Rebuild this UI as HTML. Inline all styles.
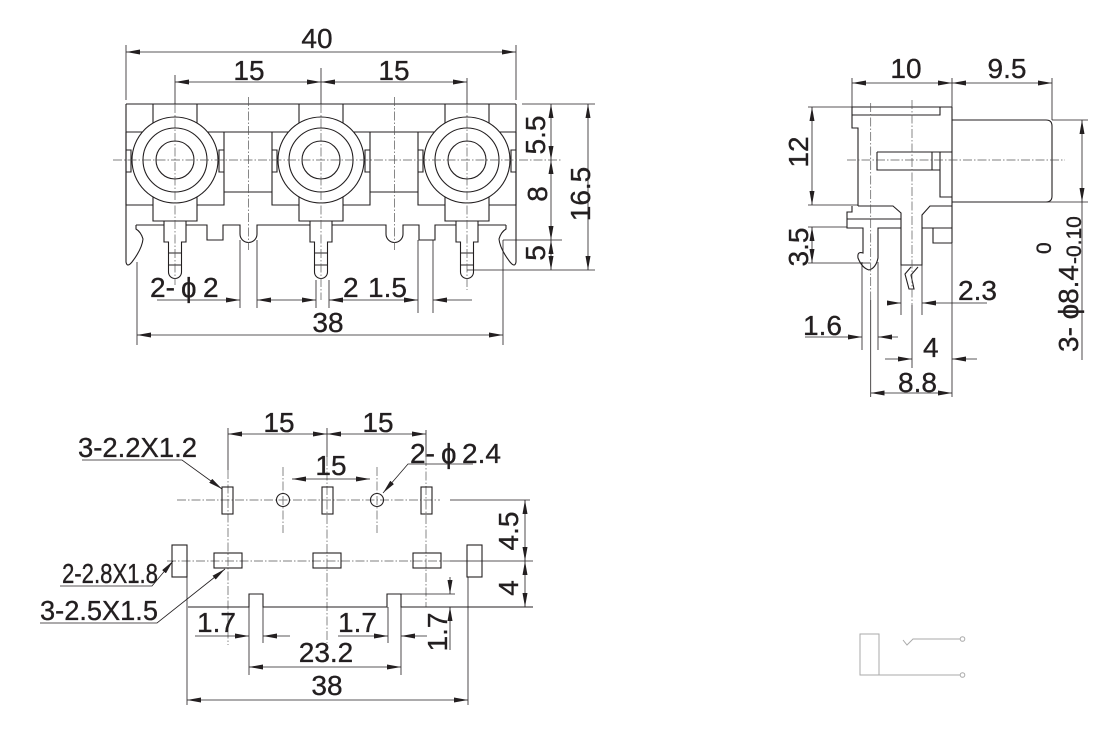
<!DOCTYPE html>
<html><head><meta charset="utf-8"><style>
html,body{margin:0;padding:0;background:#fff;}
svg{display:block;}
.o{stroke:#231f20;stroke-width:1.1;fill:none;}
.d{stroke:#231f20;stroke-width:0.8;fill:none;}
.c{stroke:#555;stroke-width:0.7;fill:none;stroke-dasharray:9 2 1.5 2;}
.g{stroke:#aaa;stroke-width:1;fill:none;}
text{font-family:"Liberation Sans","DejaVu Sans",Arial,sans-serif;font-size:28px;fill:#231f20;stroke:#231f20;stroke-width:0.35;}
.s{font-size:21px;}
</style></head><body>
<svg width="1120" height="734" viewBox="0 0 1120 734" xmlns="http://www.w3.org/2000/svg">
<defs>
<marker id="a" viewBox="0 0 14 5" refX="14" refY="2.5" markerWidth="14" markerHeight="5" markerUnits="userSpaceOnUse" orient="auto-start-reverse"><path d="M0,0 L14,2.5 L0,5 z" fill="#231f20"/></marker>
</defs>
<rect width="1120" height="734" fill="#fff"/>

<!-- ================= FRONT VIEW ================= -->
<g class="o">
<path d="M126,104 H516 M126,132 H516"/>
<path d="M126,104 V262 Q127,268 132,262 Q142,249 143,239 Q141,232 136,229 V225"/>
<path d="M516,104 V262 Q515,268 510,262 Q500,249 499,239 Q501,232 506,229 V225"/>
<path d="M126,132 V205 H153 M224,132 V205 H197 M153,104 V125 M197,104 V125 M153,190 V221 H197 V190 M126,150 H131 V172 H126 M224,150 H219 V172 H224"/>
<path d="M272,132 V205 H299 M370,132 V205 H343 M299,104 V125 M343,104 V125 M299,190 V221 H343 V190 M272,150 H277 V172 H272 M370,150 H365 V172 H370"/>
<path d="M418,132 V205 H445 M516,132 V205 H489 M445,104 V125 M489,104 V125 M445,190 V221 H489 V190 M418,150 H423 V172 H418 M516,150 H511 V172 H516"/>
<path d="M224,192 H272 M370,192 H418"/>
<path d="M136,225 H164 M186,225 H207 V240 H223 V225 H240 V234 A8.5,8.5 0 0 0 257,234 V225 H310 M332,225 H386 V234 A8.5,8.5 0 0 0 403,234 V225 H419 V240 H435 V225 H456 M478,225 H506"/>
<path d="M164,221 V242 H168.5 V272 A6.5,6.5 0 0 0 181.5,272 V242 H186 V221 M168.5,253 H181.5 M168.5,265 H181.5"/>
<path d="M310,221 V242 H314.5 V272 A6.5,6.5 0 0 0 327.5,272 V242 H332 V221 M314.5,253 H327.5 M314.5,265 H327.5"/>
<path d="M456,221 V242 H460.5 V272 A6.5,6.5 0 0 0 473.5,272 V242 H478 V221 M460.5,253 H473.5 M460.5,265 H473.5"/>
<circle cx="175" cy="160" r="43" fill="#fff"/><circle cx="175" cy="160" r="32"/><circle cx="175" cy="160" r="19"/>
<circle cx="321" cy="160" r="43" fill="#fff"/><circle cx="321" cy="160" r="32"/><circle cx="321" cy="160" r="19"/>
<circle cx="467" cy="160" r="43" fill="#fff"/><circle cx="467" cy="160" r="32"/><circle cx="467" cy="160" r="19"/>
</g>
<g class="c">
<path d="M113,160 H562"/>
<path d="M175,104 V285 M321,104 V300 M467,104 V290 M248.5,97 V250 M394.5,97 V250"/>
</g>
<g class="d">
<path d="M126,45 V100 M516,45 V100 M175,75 V104 M321,68 V104 M467,78 V104"/>
<line x1="126" y1="52" x2="516" y2="52" marker-start="url(#a)" marker-end="url(#a)"/>
<line x1="175" y1="82" x2="321" y2="82" marker-start="url(#a)" marker-end="url(#a)"/>
<line x1="321" y1="82" x2="467" y2="82" marker-start="url(#a)" marker-end="url(#a)"/>
<path d="M522,104 H595 M503,240 H562 M467,270 H595"/>
<line x1="551" y1="104" x2="551" y2="160" marker-start="url(#a)" marker-end="url(#a)"/>
<line x1="551" y1="160" x2="551" y2="240" marker-start="url(#a)" marker-end="url(#a)"/>
<line x1="551" y1="240" x2="551" y2="270" marker-start="url(#a)" marker-end="url(#a)"/>
<line x1="588" y1="104" x2="588" y2="270" marker-start="url(#a)" marker-end="url(#a)"/>
<path d="M240,240 V308 M257,240 V308 M316,280 V308 M329,280 V308 M418,240 V313 M433,240 V313 M137,262 V345 M503,240 V345"/>
<line x1="157" y1="300" x2="240" y2="300" marker-end="url(#a)"/>
<line x1="257" y1="300" x2="316" y2="300" marker-start="url(#a)" marker-end="url(#a)"/>
<line x1="329" y1="300" x2="418" y2="300" marker-start="url(#a)" marker-end="url(#a)"/>
<line x1="472" y1="300" x2="433" y2="300" marker-end="url(#a)"/>
<line x1="137" y1="335" x2="503" y2="335" marker-start="url(#a)" marker-end="url(#a)"/>
</g>
<text x="317" y="48" text-anchor="middle">40</text>
<text x="249" y="80" text-anchor="middle">15</text>
<text x="394" y="80" text-anchor="middle">15</text>
<text transform="translate(545,135) rotate(-90)" text-anchor="middle">5.5</text>
<text transform="translate(547,194) rotate(-90)" text-anchor="middle">8</text>
<text transform="translate(545,253) rotate(-90)" text-anchor="middle">5</text>
<text transform="translate(590,194) rotate(-90)" text-anchor="middle">16.5</text>
<text x="150" y="297">2-</text><text x="181" y="297">ɸ</text><text x="203" y="297">2</text>
<text x="343" y="297">2</text>
<text x="368" y="297">1.5</text>
<text x="328" y="332" text-anchor="middle">38</text>

<!-- ================= SIDE VIEW ================= -->
<g class="o">
<path d="M952,107 H852 V128 H858 V206"/>
<path d="M858,206 H893 L901,213 V265 H922 V215 L930,206 H952"/>
<path d="M852,206 V212 H847 V228 H863 V253 Q857,251 858,258 Q862,268 869,270 Q876,268 878,258 V228 H901"/>
<path d="M847,219 H901"/>
<path d="M922,228 H952 M933,228 V243 H952"/>
<path d="M952,107 V243"/>
<path d="M852,115 H940 V107"/>
<path d="M952,120 H1046 Q1052,120 1052,126 V196 Q1052,202 1046,202 H952"/>
<path d="M877,152 H952 M877,152 V170 H940 M932,152 V170 M940,152 V197 H952"/>
<path d="M911,267 L905,274 L909,289 H914 L911,275 L918,267"/>
</g>
<g class="c">
<path d="M847,160 H1065"/>
<path d="M870.7,103 V300 M912,100 V305"/>
</g>
<g class="d">
<path d="M852,78 V107 M952,78 V107 M1052,78 V120"/>
<line x1="852" y1="83" x2="952" y2="83" marker-start="url(#a)" marker-end="url(#a)"/>
<line x1="952" y1="83" x2="1052" y2="83" marker-start="url(#a)" marker-end="url(#a)"/>
<path d="M808,107 H852 M808,205 H858 M808,227 H847 M808,263 H870"/>
<line x1="812" y1="107" x2="812" y2="205" marker-start="url(#a)" marker-end="url(#a)"/>
<line x1="812" y1="227" x2="812" y2="263" marker-start="url(#a)" marker-end="url(#a)"/>
<path d="M952,243 V397 M870.7,300 V397 M912,305 V368 M862,262 V350 M878,262 V350 M901,265 V315 M922,265 V315"/>
<line x1="887" y1="303" x2="901" y2="303" marker-end="url(#a)"/>
<line x1="987" y1="303" x2="922" y2="303" marker-end="url(#a)"/>
<line x1="805" y1="337" x2="862" y2="337" marker-end="url(#a)"/>
<line x1="898" y1="337" x2="878" y2="337" marker-end="url(#a)"/>
<line x1="885" y1="359" x2="912" y2="359" marker-end="url(#a)"/>
<line x1="977" y1="359" x2="952" y2="359" marker-end="url(#a)"/>
<line x1="870.7" y1="393" x2="952" y2="393" marker-start="url(#a)" marker-end="url(#a)"/>
<path d="M1052,120 H1088 M1047,202 H1088 M1082,202 V360"/>
<line x1="1082" y1="120" x2="1082" y2="202" marker-start="url(#a)" marker-end="url(#a)"/>
</g>
<text x="906" y="78" text-anchor="middle">10</text>
<text x="1007" y="78" text-anchor="middle">9.5</text>
<text transform="translate(808,152) rotate(-90)" text-anchor="middle">12</text>
<text transform="translate(808,247) rotate(-90)" text-anchor="middle">3.5</text>
<text x="958" y="300">2.3</text>
<text x="803" y="335">1.6</text>
<text x="923" y="357">4</text>
<text x="898" y="392">8.8</text>
<text transform="translate(1078,352) rotate(-90)">3- ɸ8.4</text>
<text class="s" transform="translate(1081,264) rotate(-90)">-0.10</text>
<text class="s" transform="translate(1051,254) rotate(-90)">0</text>

<!-- ================= FOOTPRINT ================= -->
<g class="c">
<path d="M177,500 H440 M167,561 H450"/>
<path d="M228,470 V645 M327,457 V643 M426,457 V607 M283,467 V533 M377,467 V533"/>
</g>
<g class="o">
<rect x="222" y="487" width="11" height="27"/>
<rect x="322" y="487" width="11" height="27"/>
<rect x="421" y="487" width="11" height="27"/>
<circle cx="283" cy="500" r="6.5"/>
<circle cx="377" cy="500" r="6.5"/>
<rect x="214" y="553" width="28" height="15"/>
<rect x="313" y="553" width="28" height="15"/>
<rect x="413" y="553" width="28" height="15"/>
<rect x="172" y="545" width="15" height="32"/>
<rect x="467" y="545" width="15" height="32"/>
<path d="M188,607 H249 V594 H263 V607 H387 V594 H401 V607 H533"/>
</g>
<g class="d">
<path d="M228,428 V470 M327,428 V457 M426,430 V457"/>
<line x1="228" y1="434" x2="327" y2="434" marker-start="url(#a)" marker-end="url(#a)"/>
<line x1="327" y1="434" x2="426" y2="434" marker-start="url(#a)" marker-end="url(#a)"/>
<line x1="292" y1="479" x2="370" y2="479" marker-start="url(#a)" marker-end="url(#a)"/>
<path d="M450,500 H530 M450,561 H533"/>
<line x1="525" y1="500" x2="525" y2="561" marker-start="url(#a)" marker-end="url(#a)"/>
<line x1="525" y1="561" x2="525" y2="607" marker-start="url(#a)" marker-end="url(#a)"/>
<path d="M187,577 V705 M468,577 V705 M249,607 V675 M263,607 V643 M388,607 V643 M401,607 V675 M401,594 H455"/>
<line x1="450" y1="577" x2="450" y2="594" marker-end="url(#a)"/>
<line x1="450" y1="650" x2="450" y2="607" marker-end="url(#a)"/>
<line x1="195" y1="636" x2="249" y2="636" marker-end="url(#a)"/>
<line x1="290" y1="636" x2="263" y2="636" marker-end="url(#a)"/>
<line x1="338" y1="636" x2="388" y2="636" marker-end="url(#a)"/>
<line x1="427" y1="636" x2="401" y2="636" marker-end="url(#a)"/>
<line x1="249" y1="667" x2="401" y2="667" marker-start="url(#a)" marker-end="url(#a)"/>
<line x1="187" y1="700" x2="468" y2="700" marker-start="url(#a)" marker-end="url(#a)"/>
<polyline points="82,460 182,460 222,489" marker-end="url(#a)"/>
<polyline points="473,464 408,464 383,493" marker-end="url(#a)"/>
<polyline points="60,586 152,586 173,561" marker-end="url(#a)"/>
<polyline points="40,623 157,623 225,569" marker-end="url(#a)"/>
</g>
<text x="279" y="432" text-anchor="middle">15</text>
<text x="378" y="432" text-anchor="middle">15</text>
<text x="331" y="475" text-anchor="middle">15</text>
<text x="78" y="457" textLength="119" lengthAdjust="spacingAndGlyphs">3-2.2X1.2</text>
<text x="410" y="463">2-</text><text x="441" y="463">ɸ</text><text x="462" y="463">2.4</text>
<text x="62" y="583" textLength="96" lengthAdjust="spacingAndGlyphs">2-2.8X1.8</text>
<text x="40" y="620" textLength="118" lengthAdjust="spacingAndGlyphs">3-2.5X1.5</text>
<text transform="translate(518,531) rotate(-90)" text-anchor="middle">4.5</text>
<text transform="translate(518,588) rotate(-90)" text-anchor="middle">4</text>
<text transform="translate(447,632) rotate(-90)" text-anchor="middle">1.7</text>
<text x="197" y="632">1.7</text>
<text x="338" y="632">1.7</text>
<text x="326" y="662" text-anchor="middle">23.2</text>
<text x="327" y="695" text-anchor="middle">38</text>

<!-- ================= SCHEMATIC ================= -->
<g class="g">
<rect x="860" y="634" width="19" height="41"/>
<path d="M879,675 H960"/>
<circle cx="962.5" cy="675" r="2.3"/>
<path d="M903,640 L907,645 L913,639 H960"/>
<circle cx="962.5" cy="639" r="2.3"/>
</g>
</svg>
</body></html>
